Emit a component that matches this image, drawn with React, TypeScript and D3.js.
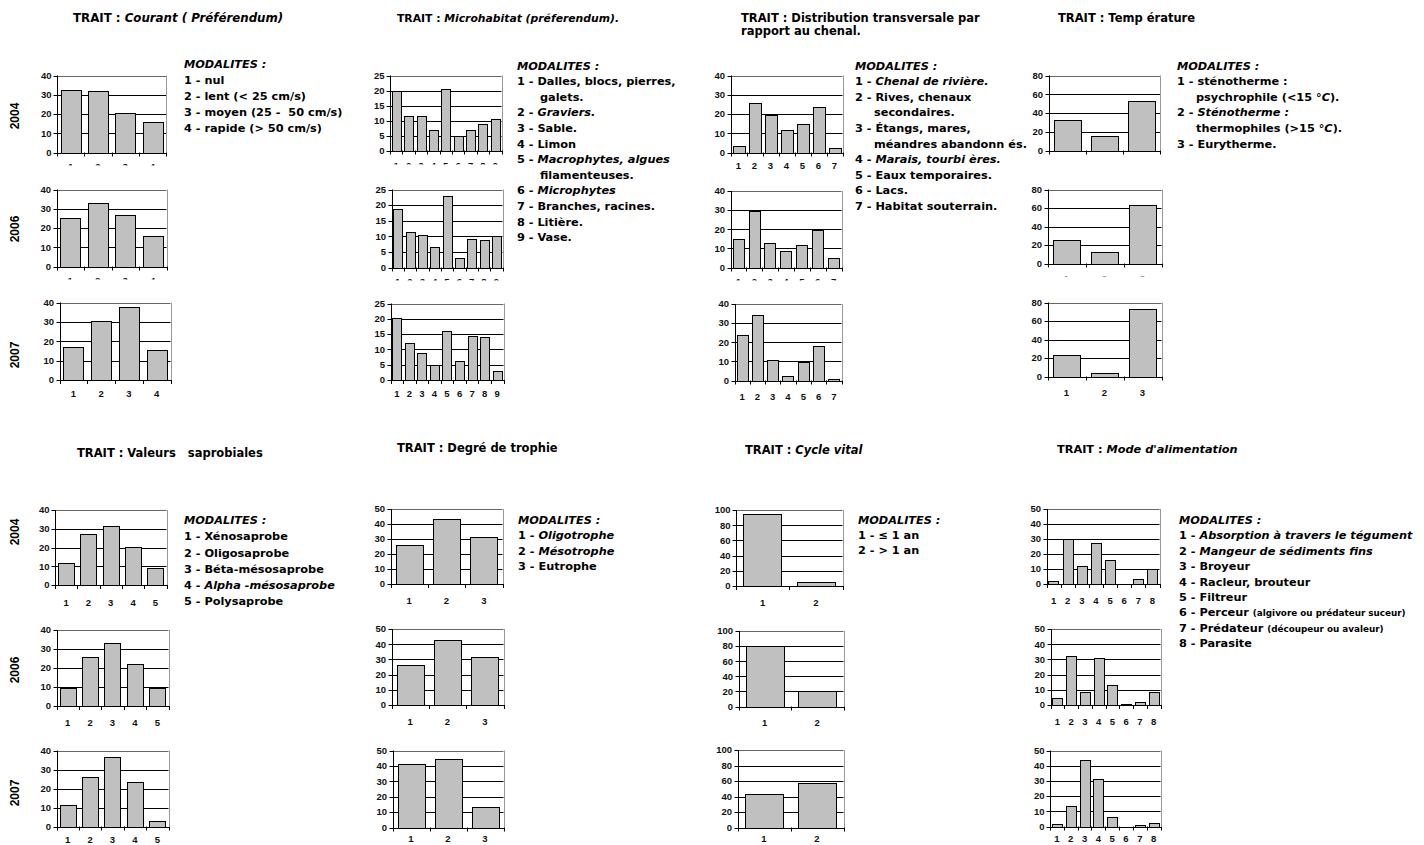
import React from "react";
import * as d3 from "d3";

// ---------- DATA ----------
const years = ["2004", "2006", "2007"];

const courantCats = ["1", "2", "3", "4"];
const courant2004 = [32.5, 32, 20.5, 16];
const courant2006 = [25, 33, 26.5, 16];
const courant2007 = [17, 30.5, 37.5, 15.5];

const microCats = ["1", "2", "3", "4", "5", "6", "7", "8", "9"];
const micro2004 = [20, 11.5, 11.5, 7, 20.5, 4.8, 6.7, 8.8, 10.4];
const micro2006 = [18.7, 11.5, 10.3, 6.6, 23, 3, 9, 8.7, 10];
const micro2007 = [20.3, 12.1, 8.9, 5, 16.1, 6.2, 14.5, 14.1, 2.8];

const distCats = ["1", "2", "3", "4", "5", "6", "7"];
const dist2004 = [3.5, 25.5, 19.5, 11.5, 14.8, 23.5, 2.2];
const dist2006 = [14.8, 29.5, 12.7, 8.5, 11.6, 19.8, 5];
const dist2007 = [23.7, 34.3, 10.5, 2.3, 9.9, 18.3, 1];

const tempCats = ["1", "2", "3"];
const temp2004 = [32.5, 15.5, 52.5];
const temp2006 = [25.5, 12.5, 63.5];
const temp2007 = [23.5, 4, 73];

const saproCats = ["1", "2", "3", "4", "5"];
const sapro2004 = [12, 27, 31.5, 20.5, 9];
const sapro2006 = [9.3, 26, 33, 22.2, 9.3];
const sapro2007 = [11.5, 26.2, 36.8, 23.3, 3];

const trophCats = ["1", "2", "3"];
const troph2004 = [25.7, 43.5, 31.5];
const troph2006 = [26.2, 42.5, 31.7];
const troph2007 = [41.2, 44.5, 13.5];

const cycleCats = ["1", "2"];
const cycle2004 = [94.5, 5.5];
const cycle2006 = [80.5, 20];
const cycle2007 = [43, 57.5];

const alimCats = ["1", "2", "3", "4", "5", "6", "7", "8"];
const alim2004 = [2, 30.2, 12, 27.3, 16.3, 0, 3.5, 9.8];
const alim2006 = [4.8, 32.3, 8.5, 31.1, 13.2, 0.6, 2, 8.5];
const alim2007 = [1.5, 13.8, 43.8, 31.2, 6.2, 0, 1.3, 2.2];

// titles (segments: [text, italic])
const titleCourant = [["TRAIT : ", false], ["Courant ( Préférendum)", true]];
const titleMicro = [["TRAIT : ", false], ["Microhabitat (préferendum).", true]];
const titleDist1 = [["TRAIT : Distribution transversale par", false]];
const titleDist2 = [["rapport au chenal.", false]];
const titleTemp = [["TRAIT : Temp érature", false]];
const titleSapro = [["TRAIT : Valeurs   saprobiales", false]];
const titleTroph = [["TRAIT : Degré de trophie", false]];
const titleCycle = [["TRAIT : ", false], ["Cycle vital", true]];
const titleAlim = [["TRAIT : ", false], ["Mode d'alimentation", true]];

// legends: [indent, segments]; segment: [text, italic, small?]
const legCourant = [
  [0, [["MODALITES :", true]]],
  [0, [["1 - nul", false]]],
  [0, [["2 - lent (< 25 cm/s)", false]]],
  [0, [["3 - moyen (25 -  50 cm/s)", false]]],
  [0, [["4 - rapide (> 50 cm/s)", false]]],
];
const legMicro = [
  [0, [["MODALITES :", true]]],
  [0, [["1 - Dalles, blocs, pierres,", false]]],
  [1, [["galets.", false]]],
  [0, [["2 - ", false], ["Graviers.", true]]],
  [0, [["3 - Sable.", false]]],
  [0, [["4 - Limon", false]]],
  [0, [["5 - ", false], ["Macrophytes, algues", true]]],
  [1, [["filamenteuses.", false]]],
  [0, [["6 - ", false], ["Microphytes", true]]],
  [0, [["7 - Branches, racines.", false]]],
  [0, [["8 - Litière.", false]]],
  [0, [["9 - Vase.", false]]],
];
const legDist = [
  [0, [["MODALITES :", true]]],
  [0, [["1 - ", false], ["Chenal de rivière.", true]]],
  [0, [["2 - Rives, chenaux", false]]],
  [1, [["secondaires.", false]]],
  [0, [["3 - Étangs, mares,", false]]],
  [1, [["méandres abandonn és.", false]]],
  [0, [["4 - ", false], ["Marais, tourbi ères.", true]]],
  [0, [["5 - Eaux temporaires.", false]]],
  [0, [["6 - Lacs.", false]]],
  [0, [["7 - Habitat souterrain.", false]]],
];
const legTemp = [
  [0, [["MODALITES :", true]]],
  [0, [["1 - sténotherme :", false]]],
  [1, [["psychrophile (<15 °", false], ["C", true], [").", false]]],
  [0, [["2 - ", false], ["Sténotherme :", true]]],
  [1, [["thermophiles (>15 °", false], ["C", true], [").", false]]],
  [0, [["3 - Eurytherme.", false]]],
];
const legSapro = [
  [0, [["MODALITES :", true]]],
  [0, [["1 - Xénosaprobe", false]]],
  [0, [["2 - Oligosaprobe", false]]],
  [0, [["3 - Béta-mésosaprobe", false]]],
  [0, [["4 - ", false], ["Alpha -mésosaprobe", true]]],
  [0, [["5 - Polysaprobe", false]]],
];
const legTroph = [
  [0, [["MODALITES :", true]]],
  [0, [["1 - ", false], ["Oligotrophe", true]]],
  [0, [["2 - ", false], ["Mésotrophe", true]]],
  [0, [["3 - Eutrophe", false]]],
];
const legCycle = [
  [0, [["MODALITES :", true]]],
  [0, [["1 - ≤ 1 an", false]]],
  [0, [["2 - > 1 an", false]]],
];
const legAlim = [
  [0, [["MODALITES :", true]]],
  [0, [["1 - ", false], ["Absorption à travers le tégument", true]]],
  [0, [["2 - ", false], ["Mangeur de sédiments fins", true]]],
  [0, [["3 - Broyeur", false]]],
  [0, [["4 - Racleur, brouteur", false]]],
  [0, [["5 - Filtreur", false]]],
  [0, [["6 - Perceur ", false], ["(algivore ou prédateur suceur)", false, true]]],
  [0, [["7 - Prédateur ", false], ["(découpeur ou avaleur)", false, true]]],
  [0, [["8 - Parasite", false]]],
];

// ---------- LAYOUT ----------
// chart frames: x0,x1,yTop,yBot,max,step,lab (label offset), clip (label clip offset or 0)
const charts = [
  { cats: courantCats, vals: courant2004, f: [57, 166, 75.5, 152.5, 40, 10, 14, 13] },
  { cats: courantCats, vals: courant2006, f: [56.5, 166.5, 189.5, 266.5, 40, 10, 14, 13] },
  { cats: courantCats, vals: courant2007, f: [59.5, 170.5, 302.5, 380, 40, 10, 14, 0] },
  { cats: microCats, vals: micro2004, f: [390, 501.5, 75.5, 150.5, 25, 5, 15, 14] },
  { cats: microCats, vals: micro2006, f: [391.5, 502.5, 189.5, 267.5, 25, 5, 14, 13] },
  { cats: microCats, vals: micro2007, f: [390.5, 503.5, 303.5, 380, 25, 5, 14, 0] },
  { cats: distCats, vals: dist2004, f: [730.5, 842.5, 75.5, 152.5, 40, 10, 13.5, 0] },
  { cats: distCats, vals: dist2006, f: [730.5, 841.5, 191, 267.5, 40, 10, 14, 13] },
  { cats: distCats, vals: dist2007, f: [734.5, 841.5, 304, 380.5, 40, 10, 16, 0] },
  { cats: tempCats, vals: temp2004, f: [1048.5, 1160, 75.5, 150.5, 80, 20, 15, 11.5] },
  { cats: tempCats, vals: temp2006, f: [1047.5, 1161.5, 189.5, 263.5, 80, 20, 15, 13] },
  { cats: tempCats, vals: temp2007, f: [1047.5, 1161.5, 302.5, 376.5, 80, 20, 16.5, 0] },
  { cats: saproCats, vals: sapro2004, f: [55, 166.5, 510, 585, 40, 10, 18, 0] },
  { cats: saproCats, vals: sapro2006, f: [56.5, 168.5, 630, 706, 40, 10, 16.5, 0] },
  { cats: saproCats, vals: sapro2007, f: [56.5, 168.5, 750.5, 826.5, 40, 10, 13, 0] },
  { cats: trophCats, vals: troph2004, f: [390.5, 502.5, 509, 584, 50, 10, 16.5, 0] },
  { cats: trophCats, vals: troph2006, f: [391.5, 503.5, 629, 705, 50, 10, 16.5, 0] },
  { cats: trophCats, vals: troph2007, f: [392.5, 503.5, 750.5, 827.5, 50, 10, 11.5, 0] },
  { cats: cycleCats, vals: cycle2004, f: [736, 842.5, 510, 586, 100, 20, 16.5, 0] },
  { cats: cycleCats, vals: cycle2006, f: [738.5, 843.5, 631, 706.5, 100, 20, 16.5, 0] },
  { cats: cycleCats, vals: cycle2007, f: [737.5, 843.5, 750, 827.5, 100, 20, 11.5, 0] },
  { cats: alimCats, vals: alim2004, f: [1046.5, 1159.5, 509, 584, 50, 10, 16.5, 0] },
  { cats: alimCats, vals: alim2006, f: [1050.5, 1160.5, 629, 705, 50, 10, 16.5, 0] },
  { cats: alimCats, vals: alim2007, f: [1050, 1160.5, 750.5, 826.5, 50, 10, 12.5, 0] },
];

const titles = [
  { segs: titleCourant, x: 73, y: 18, s: 11.8 },
  { segs: titleMicro, x: 397, y: 18, s: 10.8 },
  { segs: titleDist1, x: 741, y: 18, s: 11.5 },
  { segs: titleDist2, x: 741, y: 31, s: 11.5 },
  { segs: titleTemp, x: 1058, y: 18, s: 11.5 },
  { segs: titleSapro, x: 77, y: 453, s: 11.5 },
  { segs: titleTroph, x: 397, y: 448, s: 11.5 },
  { segs: titleCycle, x: 745, y: 450, s: 11.5 },
  { segs: titleAlim, x: 1057, y: 449, s: 11.3 },
];

const legends = [
  { lines: legCourant, x: 184, y: 64, dy: 16, ind: 20 },
  { lines: legMicro, x: 517, y: 65.7, dy: 15.6, ind: 23 },
  { lines: legDist, x: 855, y: 65.7, dy: 15.6, ind: 19 },
  { lines: legTemp, x: 1177, y: 65.7, dy: 15.6, ind: 19 },
  { lines: legSapro, x: 184, y: 520, dy: 16.3, ind: 20 },
  { lines: legTroph, x: 518, y: 520, dy: 15.5, ind: 20 },
  { lines: legCycle, x: 858, y: 520, dy: 15.2, ind: 20 },
  { lines: legAlim, x: 1179, y: 520, dy: 15.4, ind: 20 },
];

const yearLabels = [
  { t: years[0], x: 15, y: 116 },
  { t: years[1], x: 15, y: 229 },
  { t: years[2], x: 15, y: 355 },
  { t: years[0], x: 15, y: 532 },
  { t: years[1], x: 15, y: 670 },
  { t: years[2], x: 15, y: 793 },
];

const TXT = "'DejaVu Sans', 'Noto Sans', sans-serif";
const AX = "'Liberation Sans', Arial, sans-serif";

function BarChart({ cats, vals, f, id }) {
  const [x0, x1, yTop, yBot, max, step, lab, clip] = f;
  const x = d3.scaleBand().domain(cats).range([x0, x1]).paddingInner(0.28).paddingOuter(0.14);
  const y = d3.scaleLinear().domain([0, max]).range([yBot, yTop]);
  const ticks = y.ticks(max / step);
  const bw = x.bandwidth();
  const st = x.step();
  const bounds = d3.range(cats.length + 1).map((i) => x0 + i * st);
  const clipId = `clip${id}`;
  return (
    <g>
      {clip ? (
        <defs>
          <clipPath id={clipId}>
            <rect x={x0 - 10} y={yBot} width={x1 - x0 + 20} height={clip} />
          </clipPath>
        </defs>
      ) : null}
      {ticks
        .filter((t) => t > 0 && t < max)
        .map((t) => (
          <line key={t} x1={x0} x2={x1} y1={Math.round(y(t)) + 0.5} y2={Math.round(y(t)) + 0.5} stroke="#000" strokeWidth={1} />
        ))}
      <line x1={x0} x2={x1} y1={Math.round(yTop) + 0.5} y2={Math.round(yTop) + 0.5} stroke="#666" />
      <line x1={Math.round(x1) + 0.5} x2={Math.round(x1) + 0.5} y1={yTop} y2={yBot} stroke="#999" />
      {cats.map((c, i) =>
        vals[i] > 0 ? (
          <rect
            key={c}
            x={Math.round(x(c)) + 0.5}
            y={Math.round(y(vals[i])) + 0.5}
            width={Math.round(bw)}
            height={Math.max(0, Math.round(yBot) - Math.round(y(vals[i])))}
            fill="#c0c0c0"
            stroke="#000"
            strokeWidth={1}
          />
        ) : null
      )}
      <line x1={Math.round(x0) + 0.5} x2={Math.round(x0) + 0.5} y1={yTop} y2={yBot + 0.5} stroke="#000" />
      <line x1={x0} x2={x1 + 0.5} y1={Math.round(yBot) + 0.5} y2={Math.round(yBot) + 0.5} stroke="#000" />
      {ticks.map((t) => (
        <g key={"yt" + t}>
          <line x1={Math.round(x0) - 3.5} x2={Math.round(x0) + 0.5} y1={Math.round(y(t)) + 0.5} y2={Math.round(y(t)) + 0.5} stroke="#000" />
          <text x={x0 - 5.5} y={y(t)} dy="0.35em" textAnchor="end" fontFamily={AX} fontWeight="bold" fontSize={9.5} fill="#111">
            {t}
          </text>
        </g>
      ))}
      {bounds.map((b, i) => (
        <line key={"xt" + i} x1={Math.round(b) + 0.5} x2={Math.round(b) + 0.5} y1={yBot} y2={yBot + 4} stroke="#000" />
      ))}
      <g clipPath={clip ? `url(#${clipId})` : undefined}>
        {cats.map((c) => (
          <text key={"xl" + c} x={x(c) + bw / 2} y={yBot + lab} dy="0.35em" textAnchor="middle" fontFamily={AX} fontWeight="bold" fontSize={9.5} fill="#111">
            {c}
          </text>
        ))}
      </g>
    </g>
  );
}

function Segs({ segs, x, y, size }) {
  return (
    <text x={x} y={y} dy="0.35em" fontFamily={TXT} fontWeight="bold" fontSize={size} fill="#000" xmlSpace="preserve" style={{ whiteSpace: "pre" }}>
      {segs.map((s, i) => (
        <tspan key={i} fontStyle={s[1] ? "italic" : "normal"} fontSize={s[2] ? 8.8 : undefined}>
          {s[0]}
        </tspan>
      ))}
    </text>
  );
}

export default function App() {
  return (
    <svg width={1424} height={845} style={{ position: "absolute", left: 0, top: 0, background: "#fff" }}>
      <rect width={1424} height={845} fill="#fff" />
      {titles.map((t, i) => (
        <Segs key={"t" + i} segs={t.segs} x={t.x} y={t.y} size={t.s} />
      ))}
      {legends.map((l, i) => (
        <g key={"l" + i}>
          {l.lines.map((ln, j) => (
            <Segs key={j} segs={ln[1]} x={l.x + (ln[0] ? l.ind : 0)} y={l.y + j * l.dy} size={11.3} />
          ))}
        </g>
      ))}
      {yearLabels.map((yl, i) => (
        <text key={"y" + i} transform={`translate(${yl.x},${yl.y}) rotate(-90)`} dy="0.35em" textAnchor="middle" fontFamily={AX} fontWeight="bold" fontSize={12} fill="#000">
          {yl.t}
        </text>
      ))}
      {charts.map((c, i) => (
        <BarChart key={i} id={i} cats={c.cats} vals={c.vals} f={c.f} />
      ))}
    </svg>
  );
}
